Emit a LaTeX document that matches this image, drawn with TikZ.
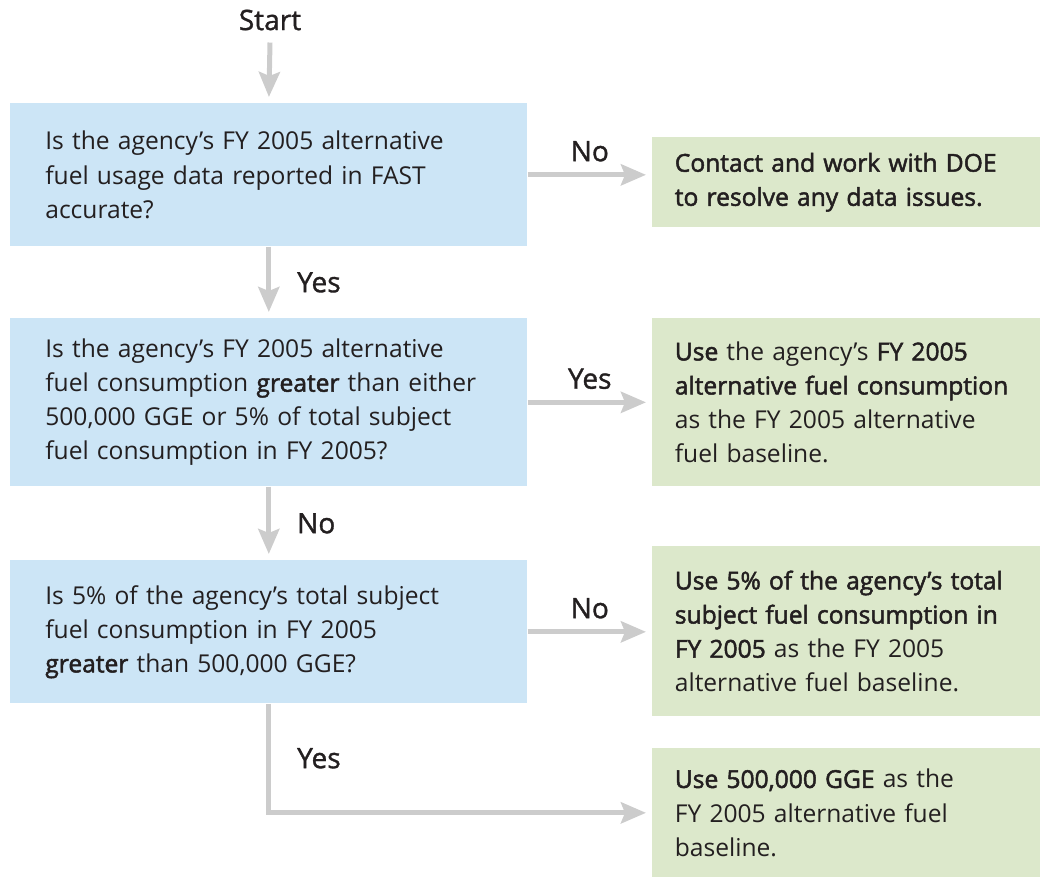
\documentclass[tikz,border=0pt]{standalone}
\usepackage{fontspec}
\setmainfont{Open Sans}[BoldFont={Open Sans}, BoldFeatures={FakeBold=2}]
\newfontfamily\lblfont{Open Sans}[FakeBold=1.2]
\usetikzlibrary{arrows.meta, positioning}
\definecolor{qblue}{HTML}{CCE5F6}
\definecolor{agreen}{HTML}{DCE8CB}
\definecolor{lgrey}{HTML}{CCCCCC}
\definecolor{ink}{HTML}{231F20}
\tikzset{
  every picture/.style={font=\fontsize{14}{19.4}\selectfont, text=ink},
  question/.style={fill=qblue, anchor=north west, align=left, text width=8.94cm, inner xsep=0.7cm, minimum width=10.34cm, minimum height=#1},
  answer/.style={fill=agreen, anchor=north west, align=left, text width=6.86cm, inner xsep=0.45cm, minimum width=7.76cm, minimum height=#1},
  arrow/.style={-{Stealth[length=0.5cm, width=0.42cm, inset=0.08cm]}, draw=lgrey, line width=0.1cm, shorten >=0.12cm},
  lbl/.style={font=\lblfont\fontsize{16}{19}\selectfont},
}

\begin{document}
\begin{tikzpicture}[x=0.02cm, y=-0.02cm]
  \useasboundingbox (0,0) rectangle (1042,879);
  \node[lbl] (start) at (270,20) {Start};
  % questions on the left
  \node[question=2.86cm] (q1) at (10,103) {Is the agency’s FY 2005 alternative\\ fuel usage data reported in FAST\\ accurate?};
  \node[question=3.36cm] (q2) at (10,318) {Is the agency’s FY 2005 alternative\\ fuel consumption \textbf{greater} than either\\ 500,000 GGE or 5\% of total subject\\ fuel consumption in FY 2005?};
  \node[question=2.86cm] (q3) at (10,560) {Is 5\% of the agency’s total subject\\ fuel consumption in FY 2005\\ \textbf{greater} than 500,000 GGE?};
  % outcomes on the right
  \node[answer=1.8cm] (a1) at (652,137) {\textbf{Contact and work with DOE}\\ \textbf{to resolve any data issues.}};
  \node[answer=3.36cm] (a2) at (652,318) {\textbf{Use} the agency’s \textbf{FY 2005}\\ \textbf{alternative fuel consumption}\\ as the FY 2005 alternative\\ fuel baseline.};
  \node[answer=3.4cm] (a3) at (652,546) {\textbf{Use 5\% of the agency’s total}\\ \textbf{subject fuel consumption in}\\ \textbf{FY 2005} as the FY 2005\\ alternative fuel baseline.};
  \node[answer=2.58cm] (a4) at (652,748) {\textbf{Use 500,000 GGE} as the\\ FY 2005 alternative fuel\\ baseline.};
  % connectors
  \draw[arrow] ([yshift=-0.12cm]start.south) -- (q1.north);
  \draw[arrow] (q1.east) -- node[lbl, above=0.1cm] {No} (q1.east -| a1.west);
  \draw[arrow] (q1.south) -- node[lbl, right=0.4cm] {Yes} (q2.north);
  \draw[arrow] (q2.east) -- node[lbl, above=0.1cm] {Yes} (q2.east -| a2.west);
  \draw[arrow] (q2.south) -- node[lbl, right=0.4cm] {No} (q3.north);
  \draw[arrow] (q3.east) -- node[lbl, above=0.1cm] {No} (q3.east -| a3.west);
  \draw[arrow] (q3.south) |- node[lbl, pos=0.25, right=0.4cm] {Yes} (a4.west);
\end{tikzpicture}
\end{document}
